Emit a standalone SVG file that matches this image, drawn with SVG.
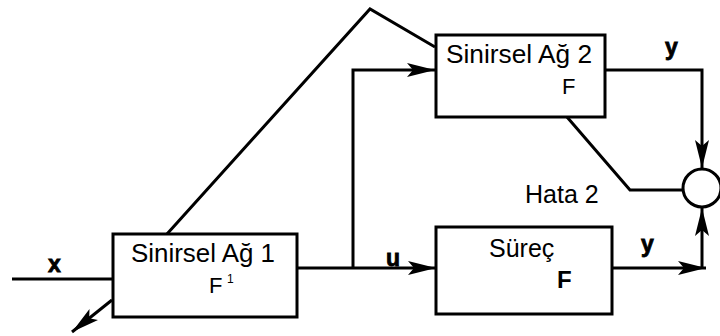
<svg xmlns="http://www.w3.org/2000/svg" width="720" height="336" viewBox="0 0 720 336">
<defs>
<style>
.box{fill:#fff;stroke:#000;stroke-width:3}
.ln{fill:none;stroke:#000;stroke-width:3;stroke-linejoin:miter}
.t{font-family:"Liberation Sans",Arial,sans-serif;font-size:25px;fill:#000}
.f{font-family:"Liberation Sans",Arial,sans-serif;font-size:22px;fill:#000}
.lb{font-family:"Liberation Sans",Arial,sans-serif;font-size:23px;font-weight:bold;fill:#000;stroke:#000;stroke-width:0.8}
.fb{font-family:"Liberation Sans",Arial,sans-serif;font-size:24px;font-weight:bold;fill:#000}
</style>
<marker id="arr" markerUnits="userSpaceOnUse" markerWidth="30" markerHeight="16" refX="28" refY="7" orient="auto">
<path d="M0,0 L28,7 L0,14 L6,7 z" fill="#000"/>
</marker>
</defs>
<rect width="720" height="336" fill="#fff"/>
<g id="connectors">
<path class="ln" d="M12,279 H113"/>
<path class="ln" d="M112,300 L72,332" marker-end="url(#arr)"/>
<path class="ln" d="M167,234 L370,9 L435,47"/>
<path class="ln" d="M297,268 H436" marker-end="url(#arr)"/>
<path class="ln" d="M353,268 V70 H435" marker-end="url(#arr)"/>
<path class="ln" d="M605,70 H702 V168" marker-end="url(#arr)"/>
<path class="ln" d="M567,117 L630,190 H683"/>
<path class="ln" d="M612,268 H706" marker-end="url(#arr)"/>
<path class="ln" d="M702,268 V208" marker-end="url(#arr)"/>
<text class="lb" x="48" y="272">x</text>
<text class="lb" x="386" y="266">u</text>
<text class="lb" x="665" y="55">y</text>
<text class="lb" x="641" y="252">y</text>
<text class="t" x="525" y="203">Hata 2</text>
</g>
<g id="ann1">
<rect class="box" x="113" y="234" width="184" height="83"/>
<text class="t" x="131" y="262" textLength="144" lengthAdjust="spacingAndGlyphs">Sinirsel Ağ 1</text>
<text class="f" x="209" y="293">F</text>
<text x="227" y="283" font-family="Liberation Sans,Arial,sans-serif" font-size="12">1</text>
</g>
<g id="ann2">
<rect class="box" x="436" y="35" width="169" height="82"/>
<text class="t" x="446" y="63" textLength="146" lengthAdjust="spacingAndGlyphs">Sinirsel Ağ 2</text>
<text class="f" x="562" y="94">F</text>
</g>
<g id="process">
<rect class="box" x="436" y="227" width="176" height="87"/>
<text class="t" x="489" y="257">Süreç</text>
<text class="fb" x="557" y="288">F</text>
</g>
<g id="sum">
<circle cx="702" cy="188" r="19" fill="#fff" stroke="#000" stroke-width="3"/>
</g>
</svg>
